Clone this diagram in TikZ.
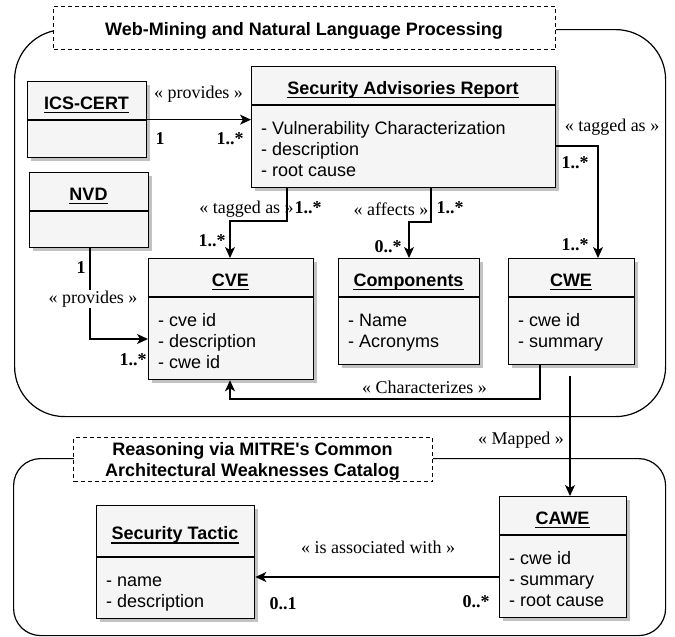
\documentclass[tikz,border=0pt]{standalone}
\usepackage{fontspec}
\setmainfont{Liberation Serif}
\setsansfont{Liberation Sans}
\usetikzlibrary{arrows.meta}
\definecolor{boxfill}{HTML}{F5F5F5}
\definecolor{shadowc}{HTML}{C2C2C2}
\newcommand{\umlbox}[7]{%
  \fill[shadowc] ({#2+4},{#3+4}) rectangle ({#4+4},{#5+4});
  \node[boxst, minimum width={#4-#2}, minimum height={#5-#3}, anchor=north west] (#1) at (#2,#3) {};
  \draw[line width=1.3pt] (#2,#6) -- (#4,#6);
  \node[titlest, anchor=base] (#1-t) at ({(#2+#4)/2},{(#3+#6)/2+8.5}) {#7};
  \draw[line width=1.2pt] ([yshift=-3.5pt]#1-t.base west) -- ([yshift=-3.5pt]#1-t.base east);
}
\newcommand{\umlattrs}[4]{%
  \foreach \t [count=\i] in {#4} {
    \node[attrst, anchor=base west] (#1-a\i) at ({#2+10},{#3+29+21*(\i-1)}) {\t};
  }
}
\begin{document}
\begin{tikzpicture}[x=1pt,y=-1pt,
  boxst/.style={draw, line width=1.3pt, fill=boxfill, inner sep=0},
  titlest/.style={font=\sffamily\bfseries\fontsize{18}{21}\selectfont, inner sep=0},
  attrst/.style={font=\sffamily\fontsize{18}{21}\selectfont, inner sep=0},
  lbl/.style={font=\fontsize{18}{21}\selectfont, inner sep=0},
  mult/.style={font=\bfseries\fontsize{18}{21}\selectfont, inner sep=0},
  conn/.style={line width=1.2pt, -{Stealth[length=11pt,width=10pt,inset=3pt]}},
  container/.style={draw, line width=1.2pt, inner sep=0},
  dashbox/.style={draw, line width=1pt, dash pattern=on 4pt off 3pt, fill=white, inner sep=0}]
\useasboundingbox (0,0) rectangle (675,637);
% containers
\node[container, rounded corners=50pt, minimum width=651, minimum height=387, anchor=north west] (topc) at (14,29) {};
\node[container, rounded corners=27pt, minimum width=652, minimum height=177, anchor=north west] (botc) at (13,458) {};
\node[dashbox, minimum width=502, minimum height=43, anchor=north west] (topt) at (53,6) {};
\node[titlest, anchor=base] (topt-t) at (304,35.5) {Web-Mining and Natural Language Processing};
\node[dashbox, minimum width=359, minimum height=44, anchor=north west] (bott) at (73,437) {};
\node[titlest, anchor=base] (bott-t1) at (252.5,455) {Reasoning via MITRE\textquotesingle s Common};
\node[titlest, anchor=base] (bott-t2) at (252.5,476.5) {Architectural Weaknesses Catalog};
% classes
\umlbox{ics}{27}{81}{146}{157}{120}{ICS-CERT}
\umlbox{nvd}{29}{172}{148}{247}{211}{NVD}
\umlbox{sar}{251}{66}{555}{187}{105}{Security Advisories Report}
\umlattrs{sar}{251}{105}{- Vulnerability Characterization,- description,- root cause}
\umlbox{cve}{148}{258}{313}{379}{297}{CVE}
\umlattrs{cve}{148}{297}{- cve id,- description,- cwe id}
\umlbox{comp}{338}{258}{479}{364}{297}{Components}
\umlattrs{comp}{338}{297}{- Name,- Acronyms}
\umlbox{cwe}{508}{258}{634}{364}{297}{CWE}
\umlattrs{cwe}{508}{297}{- cwe id,- summary}
\umlbox{st}{96}{505}{254}{618}{557}{Security Tactic}
\umlattrs{st}{96}{557}{- name,- description}
\umlbox{cawe}{499}{496}{626}{617}{535}{CAWE}
\umlattrs{cawe}{499}{535}{- cwe id,- summary,- root cause}
% connectors
\draw[conn] (ics.east) -- (sar.west |- ics.east);
\draw[conn] (sar.south -| 287,0) |- (230,221) -- (cve.north -| 230,0);
\draw[conn] (sar.south -| 431,0) |- (409,222) -- (comp.north -| 409,0);
\draw[conn] (sar.east |- 0,146) -| (cwe.north -| 598,0);
\draw[conn] (nvd.south -| 90,0) |- (cve.west |- 0,339);
\draw[conn] (cwe.south -| 540,0) |- (230,399) -- (cve.south -| 230,0);
\coordinate (mapstart) at (570,376);
\draw[conn] (mapstart) -- (cawe.north -| mapstart);
\draw[conn] (cawe.west |- 0,577) -- (st.east |- 0,577);
% labels
\node[lbl, anchor=base] (l1) at (198.5,98) {« provides »};
\node[mult, anchor=base] (m1) at (160,144) {1};
\node[mult, anchor=base] (m2) at (230,144) {1..*};
\node[lbl, anchor=base] (l2) at (246.5,213) {« tagged as »};
\node[mult, anchor=base] (m3) at (308,213) {1..*};
\node[mult, anchor=base] (m4) at (212,246) {1..*};
\node[lbl, anchor=base] (l3) at (391,215) {« affects »};
\node[mult, anchor=base] (m5) at (450,213) {1..*};
\node[mult, anchor=base] (m6) at (388,252) {0..*};
\node[lbl, anchor=base] (l4) at (612,131) {« tagged as »};
\node[mult, anchor=base] (m7) at (575,168) {1..*};
\node[mult, anchor=base] (m8) at (575,250) {1..*};
\node[mult, anchor=base] (m9) at (81,273) {1};
\node[lbl, anchor=base, fill=white, inner sep=1pt] (l5) at (93,303) {« provides »};
\node[mult, anchor=base] (m10) at (133,365) {1..*};
\node[lbl, anchor=base] (l6) at (424.5,393) {« Characterizes »};
\node[lbl, anchor=base] (l7) at (521,444) {« Mapped »};
\node[lbl, anchor=base] (l8) at (378,553) {« is associated with »};
\node[mult, anchor=base] (m11) at (283,609) {0..1};
\node[mult, anchor=base] (m12) at (476,607) {0..*};
\end{tikzpicture}
\end{document}
